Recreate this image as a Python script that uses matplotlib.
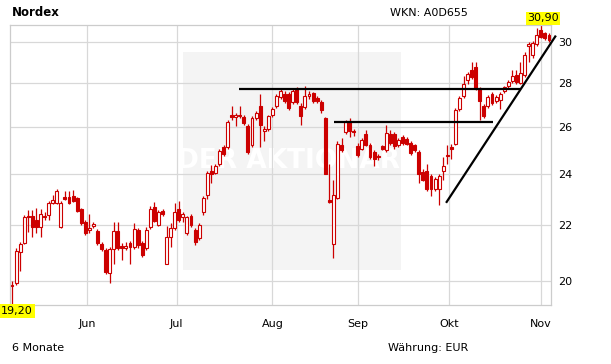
import matplotlib
matplotlib.use("Agg")
import matplotlib.pyplot as plt
from matplotlib.patches import Rectangle

# daily candles (open, high, low, close), Nordex, last 6 months
opens = [19.83, 19.93, 21.02, 21.33, 22.35, 22.35, 22.17, 21.91, 22.35, 22.39,
         22.84, 22.84, 21.91, 23.07, 23.07, 23.11, 23.03, 22.62, 22.09, 21.80,
         21.95, 21.77, 21.30, 21.09, 20.26, 21.12, 21.77, 21.22, 21.16, 21.33,
         21.19, 21.80, 21.33, 21.16, 21.91, 22.69, 21.99, 22.54, 20.60, 21.55,
         21.88, 22.62, 22.28, 21.69, 22.35, 21.80, 21.51, 22.47, 23.15, 24.12,
         24.04, 24.40, 25.10, 25.10, 26.54, 26.41, 26.46, 26.41, 26.03, 25.18,
         26.37, 26.94, 25.81, 25.90, 26.50, 26.94, 27.34, 27.48, 27.48, 27.12,
         27.70, 26.94, 26.90, 27.39, 27.52, 27.30, 27.12, 26.37, 22.96, 21.30,
         23.03, 25.18, 25.77, 26.24, 25.81, 25.14, 25.05, 25.69, 25.22, 24.89,
         24.73, 25.14, 24.97, 25.69, 25.69, 25.18, 25.56, 25.47, 25.30, 25.18,
         24.89, 24.08, 24.12, 23.92, 23.38, 23.38, 24.12, 24.77, 25.10, 25.26,
         26.81, 27.39, 28.16, 28.63, 28.77, 27.70, 26.94, 26.94, 27.48, 27.16,
         27.21, 27.61, 27.84, 28.11, 28.40, 28.02, 28.40, 29.80, 29.35, 29.90,
         30.66, 30.46, 30.36]
highs = [20.00, 21.16, 21.37, 22.39, 22.58, 22.58, 22.65, 22.62, 22.50, 22.92,
         23.15, 23.38, 22.92, 23.30, 23.30, 23.34, 23.07, 22.65, 22.17, 22.43,
         22.09, 21.84, 21.37, 21.16, 21.19, 22.09, 22.09, 21.33, 21.37, 21.40,
         22.06, 21.88, 21.40, 21.91, 22.73, 22.88, 22.58, 22.62, 21.95, 22.06,
         22.84, 22.92, 22.50, 22.35, 22.43, 21.88, 22.06, 23.11, 24.12, 24.36,
         24.40, 25.01, 25.22, 26.28, 26.94, 26.59, 26.94, 26.50, 26.11, 26.46,
         26.72, 27.48, 26.03, 26.54, 26.90, 27.48, 27.75, 27.61, 27.57, 27.70,
         27.79, 27.07, 27.88, 27.61, 27.57, 27.39, 27.21, 26.41, 24.40, 23.76,
         25.39, 25.52, 26.28, 26.37, 25.90, 25.30, 25.52, 25.86, 25.30, 24.97,
         24.81, 25.22, 26.07, 25.86, 25.77, 25.52, 25.65, 25.56, 25.39, 25.26,
         24.97, 24.20, 24.40, 24.00, 23.88, 24.00, 24.69, 25.22, 25.26, 26.85,
         27.39, 28.35, 28.54, 29.01, 29.01, 27.79, 27.03, 27.43, 27.57, 27.43,
         27.57, 27.88, 28.16, 28.63, 28.63, 29.01, 29.50, 30.00, 30.05, 30.76,
         30.90, 30.56, 30.46]
lows = [19.20, 19.86, 20.33, 21.30, 21.73, 21.55, 21.69, 21.55, 22.17, 22.17,
        22.80, 22.80, 21.88, 22.96, 22.80, 22.88, 22.47, 21.99, 21.62, 21.69,
        21.88, 21.26, 21.05, 20.23, 19.93, 20.57, 21.09, 20.74, 21.09, 20.57,
        21.12, 21.16, 20.84, 21.09, 21.84, 22.09, 21.95, 22.35, 20.57, 21.19,
        21.80, 22.09, 22.09, 21.62, 21.91, 21.26, 21.44, 22.39, 23.00, 23.61,
        24.00, 24.32, 24.73, 25.01, 26.28, 26.03, 26.37, 26.07, 24.81, 25.10,
        26.28, 25.10, 25.39, 25.81, 26.41, 26.85, 27.25, 27.07, 26.76, 27.03,
        27.03, 26.07, 26.81, 27.25, 27.07, 27.07, 26.59, 24.00, 22.84, 20.81,
        23.00, 24.89, 25.69, 25.56, 25.60, 24.69, 24.97, 25.14, 24.61, 24.32,
        24.57, 24.97, 24.89, 25.22, 25.05, 25.10, 25.22, 25.18, 24.77, 24.89,
        23.61, 23.69, 23.30, 23.11, 23.30, 22.77, 23.76, 24.40, 24.61, 25.18,
        26.72, 27.30, 27.93, 28.21, 27.66, 26.28, 26.37, 26.85, 26.99, 27.07,
        26.81, 27.52, 27.75, 28.02, 27.97, 27.93, 28.30, 29.01, 29.21, 29.80,
        30.20, 30.10, 30.00]
closes = [19.85, 21.05, 21.30, 22.28, 22.28, 21.91, 21.91, 22.43, 22.28, 22.84,
          22.96, 23.30, 22.84, 23.00, 22.84, 22.92, 22.54, 22.06, 21.69, 21.88,
          22.02, 21.33, 21.12, 20.30, 21.12, 21.77, 21.16, 21.16, 21.22, 21.19,
          21.84, 21.26, 20.91, 21.80, 22.62, 22.13, 22.50, 22.43, 21.55, 21.88,
          22.47, 22.17, 22.43, 22.28, 21.99, 21.37, 21.99, 23.03, 24.04, 24.00,
          24.32, 24.93, 24.81, 26.20, 26.41, 26.50, 26.54, 26.15, 24.89, 26.37,
          26.59, 26.07, 25.90, 26.46, 26.81, 27.39, 27.61, 27.16, 26.85, 27.61,
          27.12, 26.46, 27.39, 27.48, 27.16, 27.16, 26.76, 24.00, 22.88, 23.15,
          25.26, 24.97, 26.20, 25.81, 25.77, 24.77, 25.43, 25.22, 24.69, 24.61,
          24.69, 25.05, 25.73, 25.30, 25.14, 25.43, 25.30, 25.26, 24.85, 24.97,
          24.00, 23.76, 23.38, 23.38, 23.80, 23.92, 24.32, 24.73, 25.01, 26.76,
          27.30, 27.93, 28.44, 28.30, 27.75, 27.16, 26.46, 27.34, 27.07, 27.34,
          27.48, 27.79, 28.07, 28.35, 28.07, 28.49, 29.35, 29.90, 29.95, 30.36,
          30.30, 30.20, 30.10]

month_labels = ["Jun", "Jul", "Aug", "Sep", "Okt", "Nov"]
month_starts = [18.5, 40.5, 64, 85, 107.5, 130]   # trading-day index
price_ticks = [20, 22, 24, 26, 28, 30]

# drawn trend lines: (day0, price0, day1, price1)
trend_lines = [(55.8, 27.72, 125.1, 27.72),
               (79.2, 26.22, 118.2, 26.22),
               (106.7, 22.84, 133.7, 30.35)]

red = "#cc0000"
W, H = 611, 364
fig = plt.figure(figsize=(W / 100, H / 100), dpi=100)
ax = fig.add_axes([10 / W, 1 - 305 / H, 541 / W, 280 / H])

ax.set_yscale("log")
ax.set_ylim(min(lows), max(highs))
ax.set_xlim(-0.5, len(opens) - 0.5)

# watermark box
ax.add_patch(Rectangle((0.32, 0.125), 0.403, 0.78, transform=ax.transAxes,
                       facecolor="#f4f4f4", edgecolor="none", zorder=0))
ax.text(0.515, 0.515, "DER AKTIONÄR", transform=ax.transAxes, ha="center",
        va="center", fontsize=19, fontweight="bold", color="white", zorder=0.5)

for i in range(len(opens)):
    o, h, l, c = opens[i], highs[i], lows[i], closes[i]
    ax.vlines(i, l, h, color=red, lw=0.9, zorder=2)
    up = c >= o
    ax.bar(i, abs(c - o), bottom=min(o, c), width=0.72,
           facecolor="white" if up else red, edgecolor=red, lw=0.8, zorder=3)

for x0, y0, x1, y1 in trend_lines:
    ax.plot([x0, x1], [y0, y1], color="black", lw=1.6, zorder=4,
            clip_on=False, solid_capstyle="butt")

ax.set_xticks(month_starts)
ax.set_xticklabels(month_labels)
ax.set_yticks(price_ticks)
ax.set_yticklabels([str(t) for t in price_ticks])
ax.yaxis.set_minor_locator(matplotlib.ticker.NullLocator())
ax.yaxis.tick_right()
ax.tick_params(axis="y", length=0, pad=5, labelsize=8)
ax.tick_params(axis="x", length=0, pad=10, labelsize=8)
ax.grid(True, color="#d8d8d8", lw=0.9, zorder=1)
ax.set_axisbelow(True)
for s in ax.spines.values():
    s.set_color("#cccccc")
    s.set_linewidth(0.9)

def fx(px):
    return px / W

def fy(py):
    return 1 - py / H

fig.text(fx(12), fy(12), "Nordex", fontsize=8.5, fontweight="bold", va="center")
fig.text(fx(390), fy(13), "WKN: A0D655", fontsize=8, va="center")
fig.text(fx(12), fy(348), "6 Monate", fontsize=8, va="center")
fig.text(fx(388), fy(348), "Währung: EUR", fontsize=8, va="center")

lo = f"{min(lows):.2f}".replace(".", ",")
hi = f"{max(highs):.2f}".replace(".", ",")
box = dict(facecolor="#ffff00", edgecolor="none", pad=1.2)
fig.text(fx(17), fy(311), lo, fontsize=8, ha="center", va="center", bbox=box)
fig.text(fx(543), fy(18.5), hi, fontsize=8, ha="center", va="center", bbox=box)

fig.savefig("out.png", dpi=100)
